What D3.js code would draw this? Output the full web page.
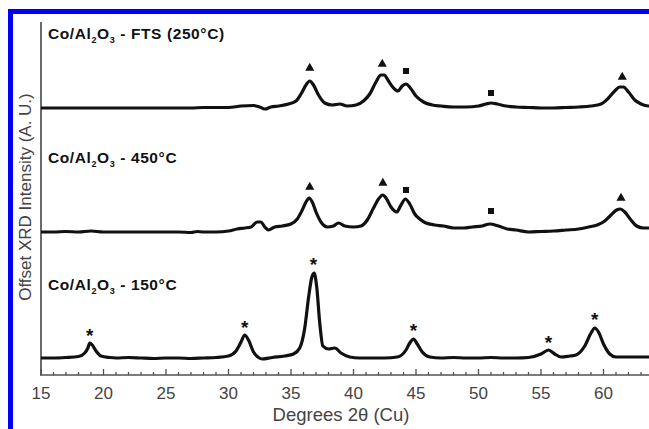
<!DOCTYPE html>
<html><head><meta charset="utf-8">
<script src="https://cdn.jsdelivr.net/npm/d3@7"></script>
<style>html,body{margin:0;padding:0;background:#fff;}svg{display:block;}</style>
</head><body>
<svg id="chart" width="649" height="429"></svg>
<script>
// ---- data (2θ in degrees, intensity in a.u. above each trace's own baseline) ----
const seriesNames = ["150", "450", "FTS"];
const seriesOffsets = [17, 143, 267];

const trace150 = [[15,0],[16,0],[17,0.5],[18,1.5],[18.5,5],[18.75,10],[18.9,15],[19.1,13],[19.4,7],[19.8,2],[20.5,0.5],[21,0],[22,0.5],[23,0],[24,-0.5],[25,0],[26,0],[27,-0.5],[28,0],[29,0.5],[30,2],[30.6,7],[31,16],[31.3,23],[31.6,18],[32,6],[32.4,0.5],[32.7,-1],[33.5,0.5],[34.5,2],[35.2,4],[35.7,10],[36.1,30],[36.4,60],[36.65,80],[36.85,85],[37.05,72],[37.3,35],[37.55,12],[38,9],[38.5,10],[39,5],[39.7,1],[40.5,0],[41.5,0],[42.5,0],[43.5,1],[44.2,8],[44.5,15],[44.8,19],[45.1,14],[45.5,6],[46.1,1],[47,0],[48,0.5],[49,0],[50,0],[51,0.5],[52,0],[53,0],[54,0.5],[55,4],[55.6,8],[56.1,4],[56.6,1],[57.3,2],[57.8,3],[58.5,12],[59,25],[59.3,30],[59.6,26],[60,14],[60.5,4],[61,1],[62,1],[63,1],[64,1],[65,1]];

const trace450 = [[15,0],[16,0],[17,0.5],[18,0],[19,1],[20,0],[21,0],[22,0],[23,0],[24,0],[25,0],[26,0],[27,-0.5],[27.5,0.5],[28,0],[29,0],[30,1],[30.7,3],[31.3,4],[31.8,5],[32.3,10],[32.6,10],[32.9,5],[33.2,2],[33.7,5],[34.3,6],[35,8],[35.5,13],[35.9,22],[36.2,30],[36.45,34],[36.7,30],[37,20],[37.4,10],[37.9,5],[38.4,6],[38.8,9],[39.3,6],[40,5],[40.6,6],[41.1,12],[41.6,24],[42,33],[42.35,37],[42.6,34],[43,25],[43.45,20],[43.8,27],[44.15,33],[44.5,28],[44.9,18],[45.3,13],[45.8,9],[46.5,7],[47.2,6],[48,4],[48.8,4],[49.5,5],[50.3,6],[50.9,8],[51.6,6],[52.3,3],[53,2],[54,0],[55,0.5],[56,1],[57,2],[58,3],[58.8,5],[59.5,7],[60.1,11],[60.6,17],[61.05,22],[61.35,23],[61.7,20],[62.2,12],[62.65,6],[63.2,4],[63.9,4],[65,4]];

const traceFTS = [[15,0],[20,0],[25,0],[27,0],[28,0.5],[30,0.5],[31,2],[32,2.5],[32.5,1],[32.9,-1],[33.4,1],[34,2],[34.8,4],[35.4,7],[35.8,14],[36.2,23],[36.5,27],[36.8,23],[37.2,13],[37.7,5],[38.3,3],[38.9,4],[39.5,2],[40.2,3],[40.8,7],[41.3,14],[41.8,26],[42.2,33],[42.45,33],[42.8,27],[43.2,20],[43.55,17],[43.9,22],[44.2,24],[44.55,20],[45,12],[45.6,6],[46.3,3],[47,2],[48,1],[49,1],[50,2],[50.6,4],[51,5],[51.5,4],[52.2,2],[53,1],[54,0.5],[55,0],[56,0],[57,0.5],[58,1],[59,2],[59.8,4],[60.4,10],[60.9,17],[61.3,21],[61.6,21],[62,16],[62.5,8],[63,4],[63.6,2],[64,2],[65,2]];

const traces = [trace150, trace450, traceFTS];

// phase markers: [2θ, height above trace baseline]
const stars150 = [[18.9,25],[31.3,33],[36.8,96],[44.8,30],[55.6,18],[59.3,41]];
const triangles450 = [[36.5,45],[42.35,49],[61.4,34]];
const squares450 = [[44.2,42],[51.0,21]];
const trianglesFTS = [[36.5,40],[42.3,44],[61.5,31]];
const squaresFTS = [[44.2,37],[51.0,15]];

const seriesLabels = [
  {main: "Co/Al", sub1: "2", mid: "O", sub2: "3", tail: " - 150°C"},
  {main: "Co/Al", sub1: "2", mid: "O", sub2: "3", tail: " - 450°C"},
  {main: "Co/Al", sub1: "2", mid: "O", sub2: "3", tail: " - FTS (250°C)"}
];
const labelHeights = [85, 212, 336];

const xTicks = [15,20,25,30,35,40,45,50,55,60];
const xMinorTicks = d3.range(15, 66, 1);
const xTitle = "Degrees 2θ (Cu)";
const yTitle = "Offset XRD Intensity (A. U.)";

// ---- drawing ----
const svg = d3.select("#chart");
const x = d3.scaleLinear().domain([15, 65]).range([41, 666]);
const y = d3.scaleLinear().domain([0, 353]).range([375, 22]);
const font = "Liberation Sans, Arial, Helvetica, sans-serif";

// blue frame
svg.append("rect").attr("x", 8).attr("y", 9).attr("width", 5).attr("height", 420).attr("fill", "#0000f5");
svg.append("rect").attr("x", 8).attr("y", 9).attr("width", 641).attr("height", 5).attr("fill", "#0000f5");

const axisColor = "#505050";
// axes
svg.append("line").attr("x1", 41).attr("x2", 41).attr("y1", 22).attr("y2", 375.5)
  .attr("stroke", axisColor).attr("stroke-width", 1.7);
svg.append("line").attr("x1", 40.2).attr("x2", 649).attr("y1", 375).attr("y2", 375)
  .attr("stroke", axisColor).attr("stroke-width", 1.7);

svg.selectAll("line.minor").data(xMinorTicks).enter().append("line")
  .attr("class", "minor")
  .attr("x1", d => x(d)).attr("x2", d => x(d))
  .attr("y1", 375).attr("y2", d => xTicks.includes(d) ? 369 : 372)
  .attr("stroke", axisColor).attr("stroke-width", 1.3);

svg.selectAll("text.xtick").data(xTicks).enter().append("text")
  .attr("class", "xtick")
  .attr("x", d => x(d)).attr("y", 399)
  .attr("text-anchor", "middle")
  .attr("font-family", font)
  .attr("font-size", 17).attr("fill", "#444")
  .text(d => d);

svg.append("text").attr("x", 341).attr("y", 421).attr("text-anchor", "middle")
  .attr("font-family", font)
  .attr("font-size", 18.5).attr("fill", "#444").text(xTitle);

svg.append("text").attr("transform", "translate(31,197) rotate(-90)")
  .attr("text-anchor", "middle")
  .attr("font-family", font)
  .attr("font-size", 17).attr("fill", "#444").text(yTitle);

// traces
const line = d3.line().x(d => x(d[0])).y(d => y(d[1])).curve(d3.curveMonotoneX);
traces.forEach((t, i) => {
  const off = seriesOffsets[i];
  svg.append("path")
    .datum(t.map(p => [p[0], p[1] + off]))
    .attr("d", line)
    .attr("fill", "none").attr("stroke", "#111").attr("stroke-width", 3.2)
    .attr("stroke-linejoin", "round");
});

// series labels
seriesLabels.forEach((l, i) => {
  const t = svg.append("text").attr("x", 48).attr("y", y(labelHeights[i]))
    .attr("font-family", font).attr("letter-spacing", 0.6)
    .attr("font-weight", "bold").attr("font-size", 15.5).attr("fill", "#111");
  t.append("tspan").text(l.main);
  t.append("tspan").attr("font-size", 9).attr("dy", 4).text(l.sub1);
  t.append("tspan").attr("dy", -4).text(l.mid);
  t.append("tspan").attr("font-size", 9).attr("dy", 4).text(l.sub2);
  t.append("tspan").attr("dy", -4).text(l.tail);
});

// markers
const markerSets = [
  {pts: stars150, off: seriesOffsets[0], type: "star"},
  {pts: triangles450, off: seriesOffsets[1], type: "tri"},
  {pts: squares450, off: seriesOffsets[1], type: "sq"},
  {pts: trianglesFTS, off: seriesOffsets[2], type: "tri"},
  {pts: squaresFTS, off: seriesOffsets[2], type: "sq"}
];
const triSym = d3.symbol().type(d3.symbolTriangle).size(36);
const sqSym = d3.symbol().type(d3.symbolSquare).size(36);
markerSets.forEach(ms => {
  ms.pts.forEach(p => {
    const cx = x(p[0]), cy = y(p[1] + ms.off);
    if (ms.type === "star") {
      svg.append("text").attr("x", cx).attr("y", cy + 9).attr("text-anchor", "middle")
        .attr("font-family", font).attr("font-weight", "bold")
        .attr("font-size", 19).attr("fill", "#111").text("*");
    } else {
      svg.append("path").attr("transform", `translate(${cx},${cy})`)
        .attr("d", ms.type === "tri" ? triSym() : sqSym()).attr("fill", "#111");
    }
  });
});
</script>
</body></html>
